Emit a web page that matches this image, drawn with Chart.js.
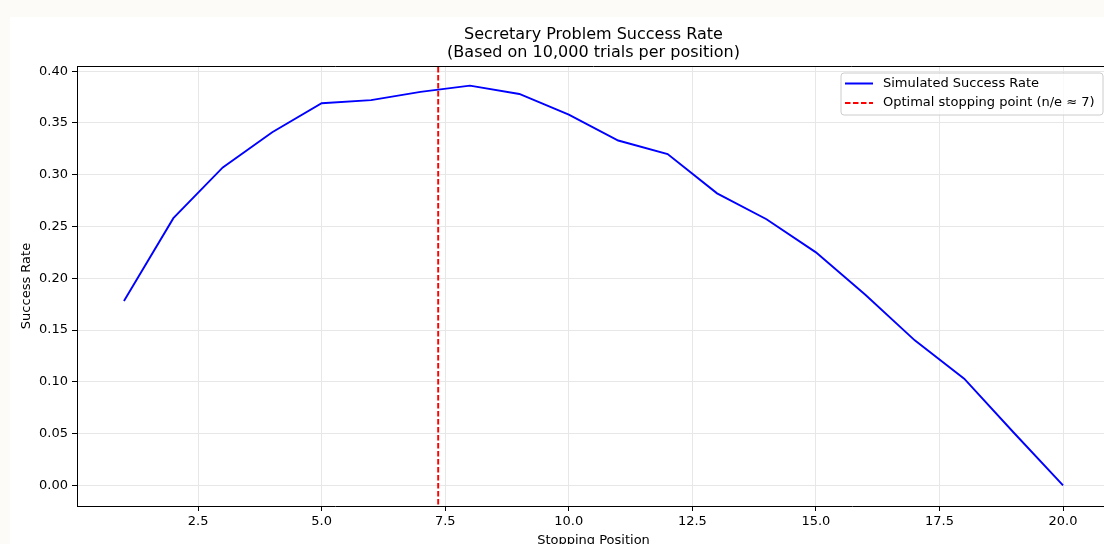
<!DOCTYPE html>
<html>
<head>
<meta charset="utf-8">
<script src="https://cdn.jsdelivr.net/npm/chart.js@4.4.1/dist/chart.umd.min.js"></script>
<style>
    html, body { margin: 0; padding: 0; overflow: hidden; background: #fcfbf8; width: 1104px; height: 544px; }
    #wrap { position: absolute; left: 10px; top: 17px; width: 1100px; height: 545px; background: #fff; }
    canvas { display: block; }
</style>
</head>
<body>
<div id="wrap"><canvas id="chart" width="1100" height="545"></canvas></div>
<script>
// stopping positions and simulated success rate
var positions = [1, 2, 3, 4, 5, 6, 7, 8, 9, 10, 11, 12, 13, 14, 15, 16, 17, 18, 19, 20];
var successRates = [0.178, 0.258, 0.307, 0.341, 0.369, 0.372, 0.380, 0.386, 0.378, 0.358,
    0.333, 0.320, 0.282, 0.257, 0.225, 0.184, 0.140, 0.103, 0.051, 0.000];
var optimalPoint = 20 / Math.E;
var xTicks = [2.5, 5.0, 7.5, 10.0, 12.5, 15.0, 17.5, 20.0];
var yTicks = [0, 0.05, 0.10, 0.15, 0.20, 0.25, 0.30, 0.35, 0.40];

var FONT = "'DejaVu Sans', sans-serif";
var GRID = '#e7e7e7';

var rateData = [];
for (var i = 0; i < positions.length; i++) {
    rateData.push({ x: positions[i], y: successRates[i] });
}

// axes frame on top + legend box in upper right corner
var framePlugin = {
    id: 'frame',
    afterDraw: function (chart) {
        var ctx = chart.ctx;
        var a = chart.chartArea;
        ctx.save();
        ctx.strokeStyle = '#000';
        ctx.lineWidth = 1;
        ctx.beginPath();
        ctx.moveTo(a.left, a.top + 0.5);
        ctx.lineTo(a.right, a.top + 0.5);
        ctx.moveTo(a.right - 0.5, a.top);
        ctx.lineTo(a.right - 0.5, a.bottom);
        ctx.stroke();

        // legend
        var bx = 831, by = 56, bw = 262, bh = 42, r = 3;
        ctx.fillStyle = 'rgba(255,255,255,0.8)';
        ctx.strokeStyle = '#cccccc';
        ctx.beginPath();
        ctx.moveTo(bx + r, by);
        ctx.lineTo(bx + bw - r, by);
        ctx.arcTo(bx + bw, by, bx + bw, by + r, r);
        ctx.lineTo(bx + bw, by + bh - r);
        ctx.arcTo(bx + bw, by + bh, bx + bw - r, by + bh, r);
        ctx.lineTo(bx + r, by + bh);
        ctx.arcTo(bx, by + bh, bx, by + bh - r, r);
        ctx.lineTo(bx, by + r);
        ctx.arcTo(bx, by, bx + r, by, r);
        ctx.closePath();
        ctx.fill();
        ctx.stroke();

        var rows = [66.5, 86];
        chart.data.datasets.forEach(function (ds, k) {
            var y = rows[k];
            ctx.strokeStyle = ds.borderColor;
            ctx.lineWidth = 2;
            ctx.setLineDash(ds.borderDash || []);
            ctx.beginPath();
            ctx.moveTo(835, y);
            ctx.lineTo(863, y);
            ctx.stroke();
            ctx.setLineDash([]);
            ctx.fillStyle = '#000';
            ctx.font = '13px ' + FONT;
            ctx.textBaseline = 'middle';
            ctx.textAlign = 'left';
            ctx.fillText(ds.label, 873, y);
        });
        ctx.restore();
    }
};

new Chart(document.getElementById('chart'), {
    type: 'line',
    data: {
        datasets: [{
            label: 'Simulated Success Rate',
            data: rateData,
            borderColor: '#0000ff',
            borderWidth: 1.9,
            pointRadius: 0,
            tension: 0
        }, {
            label: 'Optimal stopping point (n/e ≈ 7)',
            data: [{ x: optimalPoint, y: -1 }, { x: optimalPoint, y: 1 }],
            borderColor: '#ff0000',
            borderWidth: 1.9,
            borderDash: [5.5, 2.5],
            pointRadius: 0
        }]
    },
    options: {
        responsive: false,
        animation: false,
        layout: { padding: { left: 0, right: 0, top: 0, bottom: 0 } },
        plugins: {
            legend: { display: false },
            tooltip: { enabled: false },
            title: {
                display: true,
                fullSize: false,
                text: ['Secretary Problem Success Rate', '(Based on 10,000 trials per position)'],
                color: '#000',
                font: { family: FONT, size: 16, weight: 'normal', lineHeight: 1.125 },
                padding: { top: 9, bottom: 4 }
            }
        },
        scales: {
            x: {
                type: 'linear',
                min: 0.05,
                max: 20.95,
                afterBuildTicks: function (scale) {
                    scale.ticks = xTicks.map(function (v) { return { value: v }; });
                },
                afterFit: function (scale) { scale.height = 56; },
                ticks: {
                    color: '#000',
                    font: { family: FONT, size: 13 },
                    padding: 3,
                    maxRotation: 0,
                    callback: function (v) { return v.toFixed(1); }
                },
                grid: { color: GRID, lineWidth: 1, tickColor: '#000', tickLength: 5 },
                border: { color: '#000', width: 1 },
                title: {
                    display: true,
                    text: 'Stopping Position',
                    color: '#000',
                    font: { family: FONT, size: 13 },
                    padding: { top: 0, bottom: 14 }
                }
            },
            y: {
                min: -0.0200,
                max: 0.4050,
                afterBuildTicks: function (scale) {
                    scale.ticks = yTicks.map(function (v) { return { value: v }; });
                },
                afterFit: function (scale) { scale.width = 67; },
                ticks: {
                    color: '#000',
                    font: { family: FONT, size: 13 },
                    padding: 4,
                    callback: function (v) { return v.toFixed(2); }
                },
                grid: { color: GRID, lineWidth: 1, tickColor: '#000', tickLength: 5 },
                border: { color: '#000', width: 1 },
                title: {
                    display: true,
                    text: 'Success Rate',
                    color: '#000',
                    font: { family: FONT, size: 13 },
                    padding: { top: 9, bottom: 0 }
                }
            }
        }
    },
    plugins: [framePlugin]
});
</script>
</body>
</html>
